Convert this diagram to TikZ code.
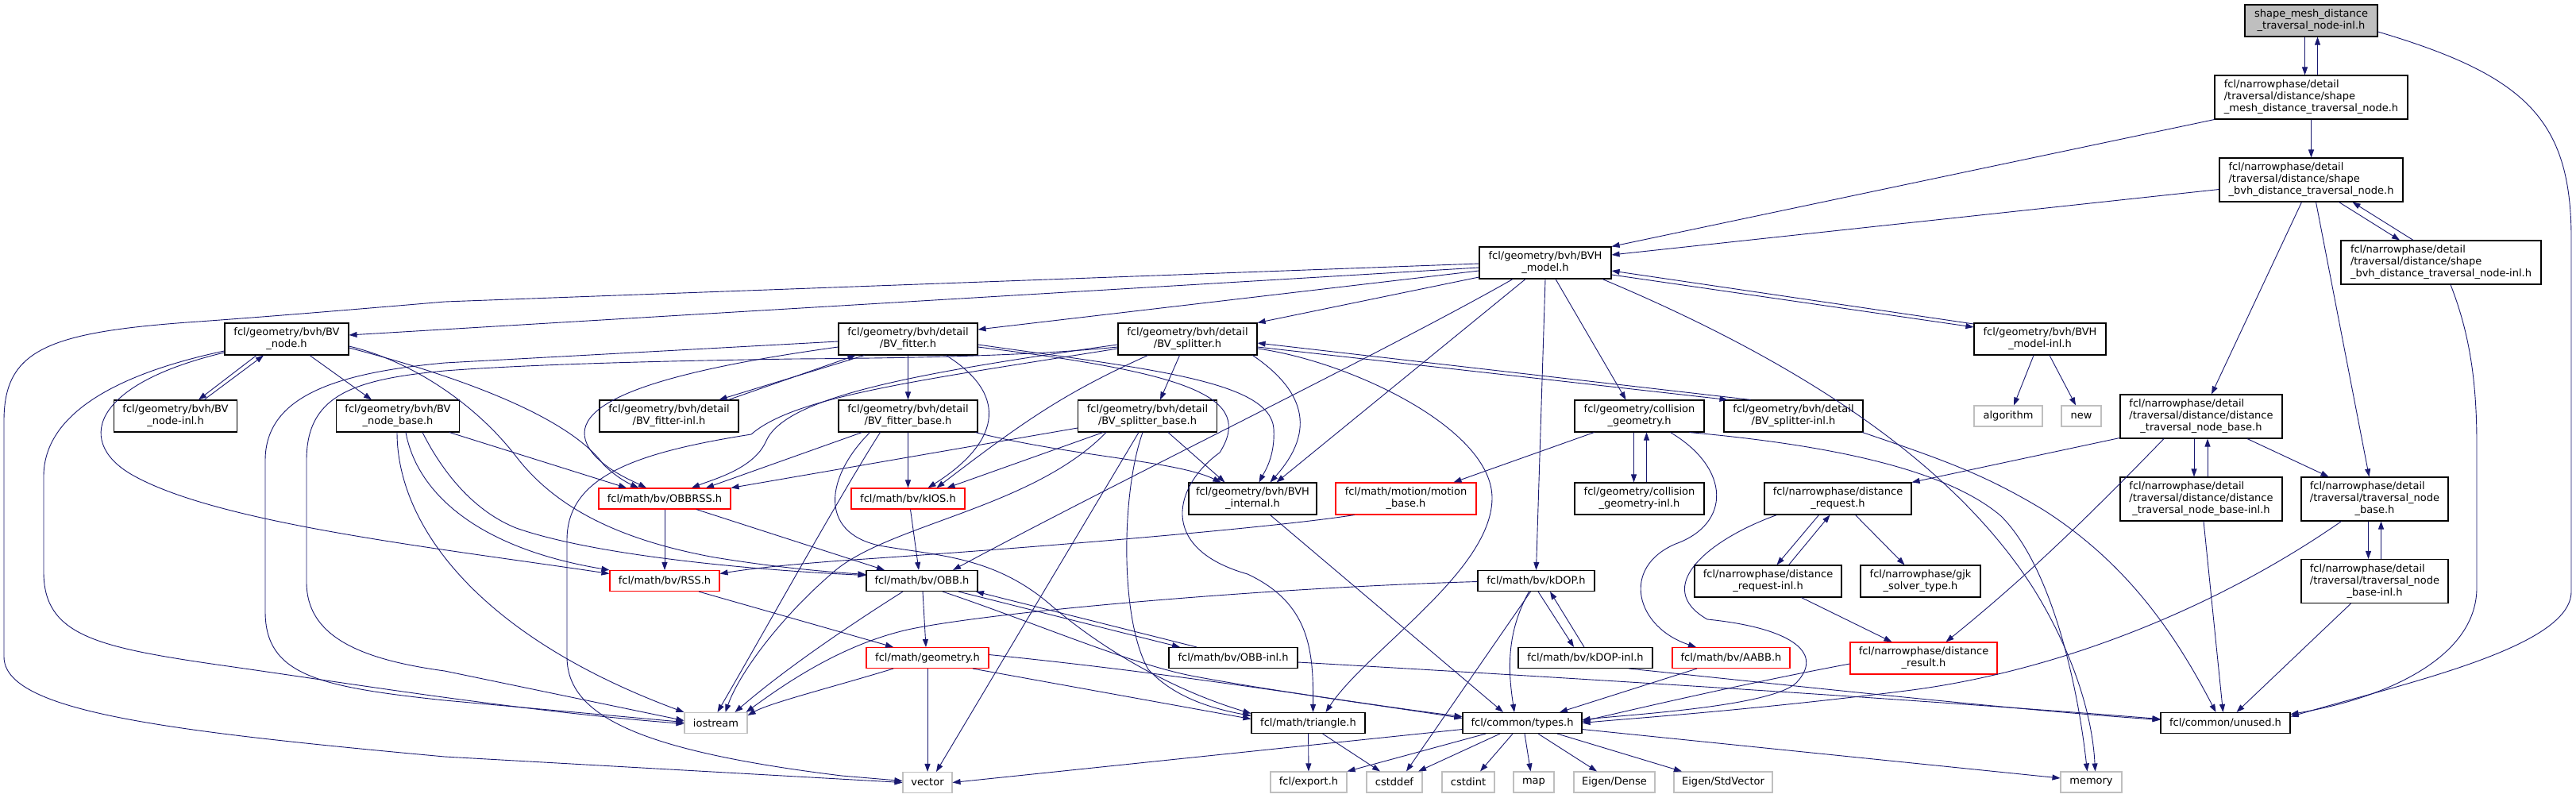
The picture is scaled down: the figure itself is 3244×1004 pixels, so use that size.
\documentclass[tikz,border=0pt]{standalone}
\usepackage{fontspec}
\setmainfont{DejaVu Sans}
\usetikzlibrary{arrows.meta}
\definecolor{edgec}{HTML}{191970}
\definecolor{sysc}{HTML}{BFBFBF}
\definecolor{topf}{HTML}{BFBFBF}
\newcommand{\threel}[3]{\begin{tabular}{@{}l@{}}#1\\#2\\\multicolumn{1}{@{}c@{}}{#3}\end{tabular}}
\begin{document}
\begin{tikzpicture}[x=1pt,y=-1pt,
 box/.style={draw=black, line width=1.1pt, fill=white, inner sep=0pt, font=\fontsize{13}{15}\selectfont, text=black},
 cbox/.style={box, align=center},
 redbox/.style={cbox, draw=red},
 sysbox/.style={cbox, draw=sysc},
 e/.style={draw=edgec, line width=0.9pt, -{Triangle[length=10pt,width=7pt]}}]
\fill[white] (0,0) rectangle (3244,1004);
\useasboundingbox (0,0) rectangle (3244,1004);

% ---------------- nodes ----------------
\node[cbox, fill=topf, minimum width=167pt, minimum height=40pt] (T) at (2910.5,26) {shape\_mesh\_distance\\\_traversal\_node-inl.h};
\node[box, minimum width=243pt, minimum height=55pt] (S1) at (2910.5,122.5) {\threel{fcl/narrowphase/detail}{/traversal/distance/shape}{\_mesh\_distance\_traversal\_node.h}};
\node[box, minimum width=231pt, minimum height=55pt] (S2) at (2910.5,226.5) {\threel{fcl/narrowphase/detail}{/traversal/distance/shape}{\_bvh\_distance\_traversal\_node.h}};
\node[box, minimum width=252pt, minimum height=55pt] (S2inl) at (3074,330.5) {\threel{fcl/narrowphase/detail}{/traversal/distance/shape}{\_bvh\_distance\_traversal\_node-inl.h}};
\node[cbox, minimum width=166pt, minimum height=40pt] (BVH) at (1946,331) {fcl/geometry/bvh/BVH\\\_model.h};

\node[cbox, minimum width=156pt, minimum height=40pt] (BVnode) at (361,427) {fcl/geometry/bvh/BV\\\_node.h};
\node[cbox, minimum width=175pt, minimum height=40pt] (BVfit) at (1143.5,427) {fcl/geometry/bvh/detail\\/BV\_fitter.h};
\node[cbox, minimum width=175pt, minimum height=40pt] (BVspl) at (1495.5,427) {fcl/geometry/bvh/detail\\/BV\_splitter.h};
\node[cbox, minimum width=166pt, minimum height=40pt] (BVHinl) at (2569,427) {fcl/geometry/bvh/BVH\\\_model-inl.h};

\node[cbox, minimum width=155pt, minimum height=40pt] (BVnodeinl) at (221,524) {fcl/geometry/bvh/BV\\\_node-inl.h};
\node[cbox, minimum width=155pt, minimum height=40pt] (BVnodebase) at (501,524) {fcl/geometry/bvh/BV\\\_node\_base.h};
\node[cbox, minimum width=175pt, minimum height=40pt] (BVfitinl) at (842.5,524) {fcl/geometry/bvh/detail\\/BV\_fitter-inl.h};
\node[cbox, minimum width=175pt, minimum height=40pt] (BVfitbase) at (1143.5,524) {fcl/geometry/bvh/detail\\/BV\_fitter\_base.h};
\node[cbox, minimum width=175pt, minimum height=40pt] (BVsplbase) at (1445,524) {fcl/geometry/bvh/detail\\/BV\_splitter\_base.h};
\node[cbox, minimum width=163pt, minimum height=40pt] (CG) at (2064.5,524) {fcl/geometry/collision\\\_geometry.h};
\node[cbox, minimum width=175pt, minimum height=40pt] (BVsplinl) at (2258.5,524) {fcl/geometry/bvh/detail\\/BV\_splitter-inl.h};
\node[sysbox, minimum width=86pt, minimum height=26pt] (algorithm) at (2529,524) {algorithm};
\node[sysbox, minimum width=50pt, minimum height=26pt] (new) at (2621,524) {new};
\node[box, minimum width=204pt, minimum height=55pt] (DTNB) at (2772,524.5) {\threel{fcl/narrowphase/detail}{/traversal/distance/distance}{\_traversal\_node\_base.h}};

\node[redbox, minimum width=166pt, minimum height=26pt] (OBBRSS) at (837,628) {fcl/math/bv/OBBRSS.h};
\node[redbox, minimum width=143pt, minimum height=26pt] (kIOS) at (1143.5,628) {fcl/math/bv/kIOS.h};
\node[cbox, minimum width=161pt, minimum height=40pt] (BVHint) at (1577.5,628) {fcl/geometry/bvh/BVH\\\_internal.h};
\node[redbox, minimum width=177pt, minimum height=40pt] (motion) at (1770.5,628) {fcl/math/motion/motion\\\_base.h};
\node[cbox, minimum width=163pt, minimum height=40pt] (CGinl) at (2064.5,628) {fcl/geometry/collision\\\_geometry-inl.h};
\node[cbox, minimum width=185pt, minimum height=40pt] (DR) at (2314.5,628) {fcl/narrowphase/distance\\\_request.h};
\node[box, minimum width=204pt, minimum height=55pt] (DTNBinl) at (2772,628.5) {\threel{fcl/narrowphase/detail}{/traversal/distance/distance}{\_traversal\_node\_base-inl.h}};
\node[box, minimum width=185pt, minimum height=55pt] (TNB) at (2990.5,628.5) {\threel{fcl/narrowphase/detail}{/traversal/traversal\_node}{\_base.h}};

\node[redbox, minimum width=138pt, minimum height=26pt] (RSS) at (837,731.5) {fcl/math/bv/RSS.h};
\node[cbox, minimum width=140pt, minimum height=26pt] (OBB) at (1161,731.5) {fcl/math/bv/OBB.h};
\node[cbox, minimum width=147pt, minimum height=26pt] (kDOP) at (1934.5,731.5) {fcl/math/bv/kDOP.h};
\node[cbox, minimum width=185pt, minimum height=40pt] (DRinl) at (2226.5,732) {fcl/narrowphase/distance\\\_request-inl.h};
\node[cbox, minimum width=151pt, minimum height=40pt] (gjk) at (2418.5,732) {fcl/narrowphase/gjk\\\_solver\_type.h};
\node[box, minimum width=185pt, minimum height=55pt] (TNBinl) at (2990.5,732) {\threel{fcl/narrowphase/detail}{/traversal/traversal\_node}{\_base-inl.h}};

\node[redbox, minimum width=154pt, minimum height=26pt] (geometry) at (1168,828.5) {fcl/math/geometry.h};
\node[cbox, minimum width=162pt, minimum height=26pt] (OBBinl) at (1553,828.5) {fcl/math/bv/OBB-inl.h};
\node[cbox, minimum width=169pt, minimum height=26pt] (kDOPinl) at (1996.5,828.5) {fcl/math/bv/kDOP-inl.h};
\node[redbox, minimum width=148pt, minimum height=26pt] (AABB) at (2180,828.5) {fcl/math/bv/AABB.h};
\node[redbox, minimum width=185pt, minimum height=40pt] (dres) at (2422.5,829) {fcl/narrowphase/distance\\\_result.h};

\node[sysbox, minimum width=79pt, minimum height=26pt] (iostream) at (901.5,910.5) {iostream};
\node[cbox, minimum width=143pt, minimum height=26pt] (triangle) at (1647.5,910.5) {fcl/math/triangle.h};
\node[cbox, minimum width=150pt, minimum height=26pt] (types) at (1917,910.5) {fcl/common/types.h};
\node[cbox, minimum width=163pt, minimum height=26pt] (unused) at (2802.5,910.5) {fcl/common/unused.h};

\node[sysbox, minimum width=62pt, minimum height=26pt] (vector) at (1168,985.5) {vector};
\node[sysbox, minimum width=96pt, minimum height=26pt] (export) at (1648,985) {fcl/export.h};
\node[sysbox, minimum width=70pt, minimum height=26pt] (cstddef) at (1756,985) {cstddef};
\node[sysbox, minimum width=66pt, minimum height=26pt] (cstdint) at (1849,985) {cstdint};
\node[sysbox, minimum width=51pt, minimum height=26pt] (map) at (1931.5,985) {map};
\node[sysbox, minimum width=102pt, minimum height=26pt] (edense) at (2033,985) {Eigen/Dense};
\node[sysbox, minimum width=124pt, minimum height=26pt] (estd) at (2170,985) {Eigen/StdVector};
\node[sysbox, minimum width=77pt, minimum height=26pt] (memory) at (2633.5,985) {memory};

% ---------------- edges ----------------
% top part
\draw[e] ([xshift=-8pt]T.south) -- ([xshift=-8pt]S1.north);
\draw[e] ([xshift=8pt]S1.north) -- ([xshift=8pt]T.south);
\draw[e] ([yshift=-14pt]T.east) .. controls (3180,95) and (3238,150) .. (3238,300) -- (3238,745) .. controls (3238,815) and (3030,860) .. ([yshift=8pt]unused.east);
\draw[e] (S1.south west) -- (BVH.north east);
\draw[e] (S1) -- (S2);
\draw[e] ([yshift=-12pt]S2.west) -- ([yshift=10pt]BVH.east);
\draw[e] ([xshift=35pt]S2.south) -- ([xshift=-52pt]S2inl.north);
\draw[e] ([xshift=-35pt]S2inl.north) -- ([xshift=52pt]S2.south);
\draw[e] ([xshift=-12pt]S2.south) -- ([xshift=13pt]DTNB.north);
\draw[e] ([xshift=6pt]S2.south) -- ([xshift=-7pt]TNB.north);
\draw[e] ([xshift=12pt]S2inl.south) .. controls (3110,420) and (3119,480) .. (3119,560) -- (3119,740) .. controls (3119,830) and (3000,880) .. ([yshift=11pt]unused.east);

% BVH_model
\draw[e] ([yshift=-15pt]BVH.east) -- ([yshift=15pt]BVHinl.west);
\draw[e] ([yshift=19pt]BVHinl.west) -- ([yshift=-10pt]BVH.east);
\draw[e] ([xshift=-8pt]BVHinl.south) -- ([xshift=7pt]algorithm.north);
\draw[e] ([xshift=12pt]BVHinl.south) -- ([xshift=-7pt]new.north);
\draw[e] ([xshift=72pt]BVH.south) .. controls (2300,470) and (2470,600) .. (2560,740) .. controls (2610,820) and (2635,900) .. ([xshift=5pt]memory.north);
\draw[e] (BVH.south) -- (kDOP.north);
\draw[e] ([xshift=13pt]BVH.south) -- ([xshift=-17pt]CG.north);
\draw[e] ([xshift=-25pt]BVH.south) -- ([xshift=30pt]BVHint.north);
\draw[e] ([xshift=-41pt]BVH.south) .. controls (1750,440) and (1400,610) .. ([xshift=39pt]OBB.north);
\draw[e] ([yshift=-18pt]BVH.west) -- (BVspl.north east);
\draw[e] ([yshift=-10pt]BVH.west) -- ([yshift=12pt]BVfit.east);
\draw[e] ([yshift=-6pt]BVH.west) -- ([yshift=5pt]BVnode.east);
\draw[e] ([yshift=-1pt]BVH.west) -- (560,380) .. controls (420,392) and (320,400) .. (250,405) .. controls (60,418) and (5,440) .. (5,530) -- (5,827) .. controls (5,895) and (200,920) .. (560,953) -- (vector.west);

% BV_node
\draw[e] ([xshift=-38pt]BVnode.south) -- ([xshift=29pt]BVnodeinl.north);
\draw[e] ([xshift=36pt]BVnodeinl.north) -- ([xshift=-29pt]BVnode.south);
\draw[e] ([xshift=29pt]BVnode.south) -- ([xshift=-33pt]BVnodebase.north);
\draw[e] ([yshift=-15pt]BVnode.west) .. controls (150,470) and (55,520) .. (55,600) -- (55,720) .. controls (55,800) and (120,815) .. (280,838) .. controls (450,862) and (650,895) .. ([yshift=-1pt]iostream.west);
\draw[e] ([yshift=-17pt]BVnode.west) .. controls (110,485) and (95,560) .. (170,600) .. controls (280,660) and (550,690) .. ([yshift=9pt]RSS.west);
\draw[e] ([yshift=-11pt]BVnode.east) .. controls (600,480) and (720,530) .. (760,585) .. controls (775,600) and (790,608) .. ([xshift=-33pt]OBBRSS.north);
\draw[e] ([yshift=-9pt]BVnode.east) .. controls (520,455) and (600,510) .. (650,575) .. controls (700,640) and (780,680) .. (900,702) .. controls (980,715) and (1040,720) .. ([yshift=8pt]OBB.west);

% BV_node_base
\draw[e] ([xshift=65pt]BVnodebase.south) -- ([xshift=-48pt]OBBRSS.north);
\draw[e] ([xshift=10pt]BVnodebase.south) .. controls (525,620) and (600,690) .. (RSS.north west);
\draw[e] ([xshift=31pt]BVnodebase.south) .. controls (560,600) and (600,645) .. (650,665) .. controls (750,700) and (950,718) .. ([yshift=7pt]OBB.west);
\draw[e] ([xshift=-1pt]BVnodebase.south) .. controls (500,660) and (600,800) .. (iostream.north west);

% BV_fitter
\draw[e] ([xshift=-55pt]BVfit.south) -- ([xshift=63pt]BVfitinl.north);
\draw[e] ([xshift=75pt]BVfitinl.north) -- ([xshift=-66pt]BVfit.south);
\draw[e] (BVfit) -- (BVfitbase);
\draw[e] ([xshift=48pt]BVfit.south) .. controls (1275,500) and (1255,560) .. ([xshift=25pt]kIOS.north);
\draw[e] ([yshift=-10pt]BVfit.west) .. controls (780,475) and (700,520) .. (750,575) .. controls (770,595) and (795,605) .. ([xshift=-23pt]OBBRSS.north);
\draw[e] ([yshift=-3pt]BVfit.west) -- (560,457) .. controls (420,470) and (334,500) .. (334,580) -- (334,770) .. controls (334,850) and (400,865) .. (560,882) -- ([yshift=1pt]iostream.west);
\draw[e] ([yshift=-7pt]BVfit.east) .. controls (1450,465) and (1600,480) .. (1604,540) .. controls (1606,575) and (1592,595) .. ([xshift=8pt]BVHint.north);
\draw[e] ([yshift=-10pt]BVfit.east) .. controls (1500,470) and (1580,500) .. (1536,570) .. controls (1480,610) and (1455,690) .. (1571,723) .. controls (1650,760) and (1654,820) .. ([xshift=6pt]triangle.north);

% BV_fitter_base
\draw[e] (BVfitbase) -- (kIOS);
\draw[e] ([xshift=-58pt]BVfitbase.south) -- ([xshift=52pt]OBBRSS.north);
\draw[e] ([xshift=-35pt]BVfitbase.south) .. controls (1060,620) and (960,800) .. ([xshift=2pt]iostream.north);
\draw[e] ([xshift=-48pt]BVfitbase.south) .. controls (1040,600) and (1030,670) .. (1107,687) .. controls (1180,700) and (1250,700) .. (1321,760) .. controls (1390,820) and (1480,870) .. ([yshift=12pt]triangle.west);
\draw[e] ([xshift=85pt]BVfitbase.south) .. controls (1350,575) and (1480,580) .. ([xshift=-40pt]BVHint.north);

% BV_splitter
\draw[e] ([yshift=-10pt]BVspl.east) -- ([xshift=-83pt]BVsplinl.north);
\draw[e] ([xshift=-54pt]BVsplinl.north) -- ([yshift=-5pt]BVspl.east);
\draw[e] ([xshift=-10pt]BVspl.south) -- ([xshift=16pt]BVsplbase.north);
\draw[e] ([xshift=-50pt]BVspl.south) .. controls (1340,495) and (1290,530) .. ([xshift=36pt]kIOS.north);
\draw[e] ([yshift=-7pt]BVspl.west) .. controls (1150,470) and (990,500) .. (965,555) .. controls (950,590) and (900,603) .. ([xshift=34pt]OBBRSS.north);
\draw[e] ([yshift=-10pt]BVspl.west) .. controls (1300,448) and (1150,451) .. (1000,452) .. controls (800,455) and (650,460) .. (560,467) .. controls (440,478) and (386,500) .. (386,580) -- (386,733) .. controls (386,800) and (450,830) .. (560,845) -- ([yshift=3pt]iostream.west);
\draw[e] ([yshift=-12pt]BVspl.west) .. controls (1150,480) and (1000,500) .. (946,547) .. controls (800,570) and (714,600) .. (714,680) -- (714,827) .. controls (714,900) and (800,945) .. (1060,977) -- ([yshift=2pt]vector.west);
\draw[e] ([xshift=82pt]BVspl.south) .. controls (1640,490) and (1660,540) .. ([xshift=22pt]BVHint.north);
\draw[e] ([yshift=-12pt]BVspl.east) .. controls (1700,455) and (1880,540) .. (1879,628) .. controls (1878,720) and (1720,820) .. ([xshift=22pt]triangle.north);

% BV_splitter_base
\draw[e] ([xshift=-56pt]BVsplbase.south) -- ([xshift=49pt]kIOS.north);
\draw[e] ([yshift=-15pt]BVsplbase.west) -- (OBBRSS.north east);
\draw[e] ([xshift=-52pt]BVsplbase.south) .. controls (1300,640) and (1120,660) .. (1050,720) .. controls (980,780) and (930,850) .. ([xshift=12pt]iostream.north);
\draw[e] ([xshift=26pt]BVsplbase.south) -- ([xshift=-35pt]BVHint.north);
\draw[e] ([xshift=-6pt]BVsplbase.south) .. controls (1412,620) and (1410,780) .. (1446,843) .. controls (1480,880) and (1530,893) .. ([yshift=9pt]triangle.west);
\draw[e] ([xshift=-11pt]BVsplbase.south) -- ([xshift=11pt]vector.north);

% BV_splitter-inl
\draw[e] ([xshift=87pt]BVsplinl.south) .. controls (2450,580) and (2500,598) .. (2573,642) .. controls (2680,710) and (2740,800) .. ([xshift=-12pt]unused.north);

% collision geometry
\draw[e] ([xshift=-7pt]CG.south) -- ([xshift=-7pt]CGinl.north);
\draw[e] ([xshift=9pt]CGinl.north) -- ([xshift=9pt]CG.south);
\draw[e] ([xshift=-57pt]CG.south) -- ([xshift=60pt]motion.north);
\draw[e] ([xshift=39pt]CG.south) .. controls (2180,590) and (2180,660) .. (2110,685) .. controls (2040,715) and (2060,790) .. ([xshift=-44pt]AABB.north);
\draw[e] ([xshift=63pt]CG.south) .. controls (2300,560) and (2450,590) .. (2520,650) .. controls (2580,710) and (2615,850) .. ([xshift=-5pt]memory.north);

% motion, OBBRSS, RSS, kIOS
\draw[e] ([xshift=-65pt]motion.south) .. controls (1600,665) and (1300,690) .. (1060,706) .. controls (980,712) and (940,717) .. ([yshift=9pt]RSS.east);
\draw[e] (OBBRSS) -- (RSS);
\draw[e] ([xshift=40pt]OBBRSS.south) -- ([xshift=-47pt]OBB.north);
\draw[e] ([xshift=43pt]RSS.south) -- ([xshift=-43pt]geometry.north);
\draw[e] ([xshift=3pt]kIOS.south) -- ([xshift=-4pt]OBB.north);

% OBB
\draw[e] ([xshift=1pt]OBB.south) -- ([xshift=-2pt]geometry.north);
\draw[e] ([xshift=-24pt]OBB.south) .. controls (1050,800) and (980,850) .. ([xshift=24pt]iostream.north);
\draw[e] ([xshift=26pt]OBB.south) .. controls (1300,783) and (1420,835) .. (1500,851) .. controls (1600,870) and (1750,890) .. ([yshift=6pt]types.west);
\draw[e] ([xshift=46pt]OBB.south) -- ([xshift=-67pt]OBBinl.north);
\draw[e] ([xshift=-46pt]OBBinl.north) -- ([xshift=68pt]OBB.south);
\draw[e] ([yshift=-5.5pt]OBBinl.east) .. controls (2000,855) and (2400,880) .. ([yshift=5pt]unused.west);

% geometry
\draw[e] (geometry) -- (vector);
\draw[e] ([xshift=-43pt]geometry.south) .. controls (1050,865) and (970,885) .. ([yshift=-4pt]iostream.north east);
\draw[e] ([xshift=57pt]geometry.south) -- ([yshift=5pt]triangle.west);
\draw[e] ([yshift=4pt]geometry.east) .. controls (1500,850) and (1700,885) .. ([yshift=8pt]types.west);

% kDOP
\draw[e] ([xshift=2.5pt]kDOP.south) -- ([xshift=-14.5pt]kDOPinl.north);
\draw[e] ([xshift=-1.5pt]kDOPinl.north) -- ([xshift=17.5pt]kDOP.south);
\draw[e] ([xshift=-9pt]kDOP.south) .. controls (1895,800) and (1900,850) .. ([xshift=-10pt]types.north);
\draw[e] ([xshift=-7pt]kDOP.south) -- ([xshift=15pt]cstddef.north);
\draw[e] ([yshift=-1pt]kDOP.west) .. controls (1600,740) and (1250,770) .. (1143,793) .. controls (1060,812) and (990,860) .. ([xshift=38pt]iostream.north);
\draw[e] ([xshift=55pt]kDOPinl.south) .. controls (2300,868) and (2550,895) .. ([yshift=4pt]unused.west);

% BVH_internal, AABB, narrowphase -> types
\draw[e] ([xshift=22pt]BVHint.south) -- ([xshift=-24pt]types.north);
\draw[e] ([xshift=-43pt]AABB.south) -- ([xshift=47pt]types.north);
\draw[e] ([xshift=-77pt]DR.south) .. controls (2150,680) and (2080,740) .. (2150,780) .. controls (2250,790) and (2300,820) .. (2262,860) .. controls (2230,890) and (2050,900) .. ([yshift=4pt]types.east);
\draw[e] ([yshift=-7pt]dres.west) .. controls (2200,860) and (2050,895) .. ([yshift=2pt]types.east);
\draw[e] ([xshift=-42pt]TNB.south) .. controls (2800,760) and (2600,845) .. (2400,870) .. controls (2200,895) and (2050,905) .. (types.east);

% types
\draw[e] ([yshift=-8pt]types.east) -- ([yshift=5pt]memory.west);
\draw[e] ([yshift=-8pt]types.west) -- (vector.east);
\draw[e] ([xshift=-46pt]types.south) -- (export.north east);
\draw[e] ([xshift=-28pt]types.south) -- ([xshift=30pt]cstddef.north);
\draw[e] ([xshift=-12pt]types.south) -- ([xshift=15pt]cstdint.north);
\draw[e] ([xshift=3pt]types.south) -- ([xshift=-4pt]map.north);
\draw[e] ([xshift=20pt]types.south) -- ([xshift=-22pt]edense.north);
\draw[e] ([xshift=44pt]types.south) -- ([xshift=-52pt]estd.north);
\draw[e] (triangle) -- (export);
\draw[e] ([xshift=18pt]triangle.south) -- ([xshift=-18pt]cstddef.north);

% distance request / result
\draw[e] ([xshift=-24pt]DR.south) -- ([xshift=11pt]DRinl.north);
\draw[e] ([xshift=26pt]DRinl.north) -- ([xshift=-10pt]DR.south);
\draw[e] ([xshift=22pt]DR.south) -- ([xshift=-20pt]gjk.north);
\draw[e] ([xshift=42pt]DRinl.south) -- ([xshift=-40pt]dres.north);

% traversal node bases
\draw[e] ([yshift=-27pt]DTNB.west) -- (DR.north east);
\draw[e] ([xshift=-47pt]DTNB.south) .. controls (2640,640) and (2560,720) .. ([xshift=28pt]dres.north);
\draw[e] ([xshift=-9pt]DTNB.south) -- ([xshift=-9pt]DTNBinl.north);
\draw[e] ([xshift=8pt]DTNBinl.north) -- ([xshift=8pt]DTNB.south);
\draw[e] ([xshift=58pt]DTNB.south) -- ([xshift=-58pt]TNB.north);
\draw[e] ([xshift=3pt]DTNBinl.south) -- ([xshift=-3pt]unused.north);
\draw[e] ([xshift=-8pt]TNB.south) -- ([xshift=-8pt]TNBinl.north);
\draw[e] ([xshift=8pt]TNBinl.north) -- ([xshift=8pt]TNB.south);
\draw[e] ([xshift=-30pt]TNBinl.south) -- ([xshift=14pt]unused.north);
\end{tikzpicture}
\end{document}
